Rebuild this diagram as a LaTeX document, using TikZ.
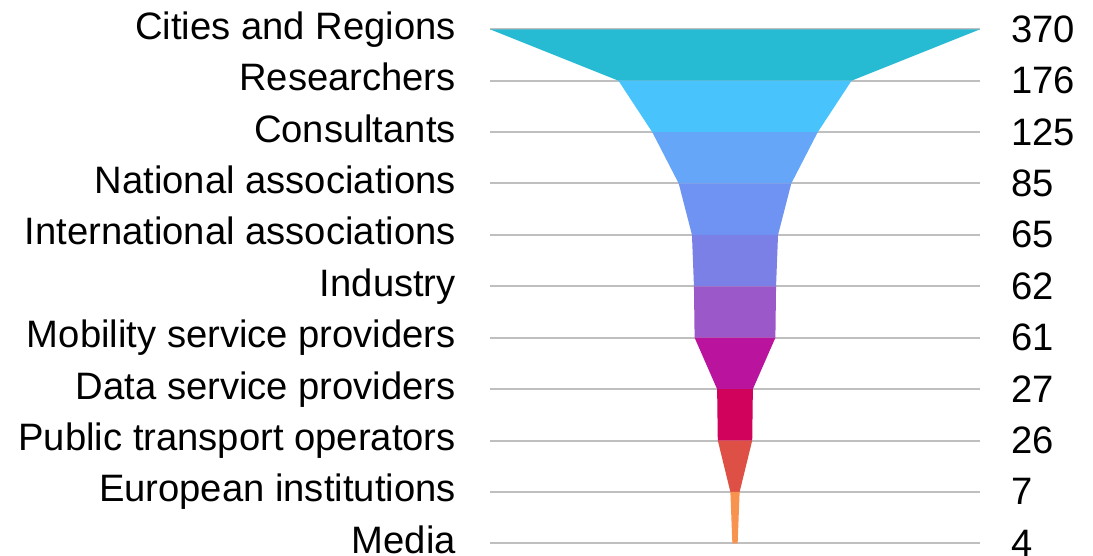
\documentclass[tikz,border=0pt]{standalone}
\usepackage{fontspec}
\setmainfont{Liberation Sans}
\usepackage{tikz}
\definecolor{segA}{HTML}{26BAD3}
\definecolor{segB}{HTML}{48C3FB}
\definecolor{segC}{HTML}{65A6F8}
\definecolor{segD}{HTML}{6E93F2}
\definecolor{segE}{HTML}{7B80E6}
\definecolor{segF}{HTML}{9A58C8}
\definecolor{segG}{HTML}{BA139E}
\definecolor{segH}{HTML}{D0025C}
\definecolor{segI}{HTML}{DE5046}
\definecolor{segJ}{HTML}{F7934F}
\tikzstyle{grid}=[draw=black!25, line width=2pt]
\tikzstyle{lab}=[inner sep=0pt, anchor=base east, font=\fontsize{38.2}{45}\selectfont]
\tikzstyle{num}=[inner sep=0pt, anchor=base west, font=\fontsize{38.2}{45}\selectfont]
% one slice of the funnel: row, upper value, lower value, colour
\newcommand{\funnelseg}[4]
{
  \fill[#4] ({735-0.6622*#2},{29.3+51.4*#1}) -- ({735+0.6622*#2},{29.3+51.4*#1})
    -- ({735+0.6622*#3},{29.3+51.4*(#1+1)}) -- ({735-0.6622*#3},{29.3+51.4*(#1+1)}) -- cycle;
}
\begin{document}
\begin{tikzpicture}[x=1pt, y=-1pt]
	\useasboundingbox (0,0) rectangle (1093,556);

	\foreach \lab/\val [count=\i from 0] in {Cities and Regions/370, Researchers/176, Consultants/125, National associations/85, International associations/65, Industry/62, Mobility service providers/61, Data service providers/27, Public transport operators/26, European institutions/7, Media/4}
	{
		\coordinate (gl\i) at (490,{29.3+51.4*\i});
		\coordinate (gr\i) at (980,{29.3+51.4*\i});
		\draw[grid] (gl\i) -- (gr\i);
		\node[lab] (lab\i) at (456,{39.3+51.4*\i}) {\lab};
		\node[num] (num\i) at (1011,{42.3+51.4*\i}) {\val};
	}

	\funnelseg{0}{370}{176}{segA}
	\funnelseg{1}{176}{125}{segB}
	\funnelseg{2}{125}{85}{segC}
	\funnelseg{3}{85}{65}{segD}
	\funnelseg{4}{65}{62}{segE}
	\funnelseg{5}{62}{61}{segF}
	\funnelseg{6}{61}{27}{segG}
	\funnelseg{7}{27}{26}{segH}
	\funnelseg{8}{26}{7}{segI}
	\funnelseg{9}{7}{4}{segJ}

\end{tikzpicture}
\end{document}
